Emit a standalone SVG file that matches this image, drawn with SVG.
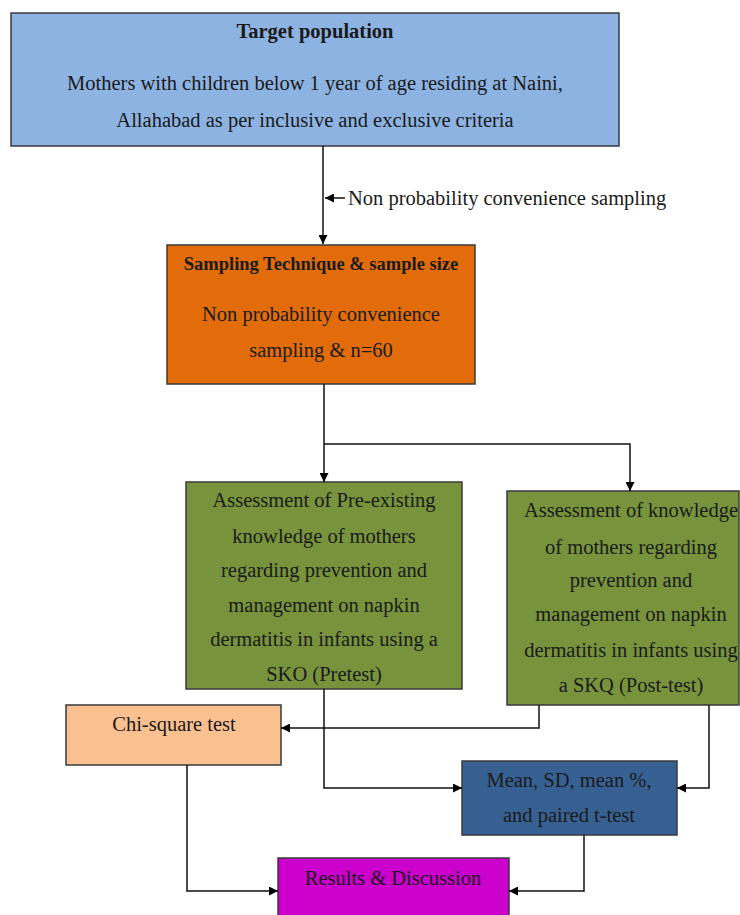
<svg xmlns="http://www.w3.org/2000/svg" width="740" height="915" viewBox="0 0 740 915">
<style>
text{font-family:"Liberation Serif","Times New Roman",serif;fill:#1a1a1a;text-anchor:middle}
.t{font-size:20.5px}
.b{font-weight:bold}
.box{stroke:#3a3a3a;stroke-width:1.5}
.c{fill:none;stroke:#111;stroke-width:1.5}
</style>
<defs>
<marker id="a" viewBox="0 0 10 10" refX="10" refY="5" markerWidth="9" markerHeight="9" markerUnits="userSpaceOnUse" orient="auto"><path d="M0,0L10,5L0,10z" fill="#000"/></marker>
</defs>
<g id="target">
<rect class="box" x="11" y="13" width="608" height="133" fill="#8DB3E2"/>
<text class="t b" x="315" y="38">Target population</text>
<text class="t" x="315" y="90">Mothers with children below 1 year of age residing at Naini,</text>
<text class="t" x="315" y="127">Allahabad as per inclusive and exclusive criteria</text>
</g>
<g id="sampling">
<rect class="box" x="167" y="245" width="308" height="139" fill="#E36C0A"/>
<text class="b" x="321" y="270" font-size="18.5">Sampling Technique &amp; sample size</text>
<text class="t" x="321" y="321">Non probability convenience</text>
<text class="t" x="321" y="357">sampling &amp; n=60</text>
</g>
<g id="pretest">
<rect class="box" x="186" y="482" width="276" height="207" fill="#77933C"/>
<text class="t" x="324" y="507">Assessment of Pre-existing</text>
<text class="t" x="324" y="543">knowledge of mothers</text>
<text class="t" x="324" y="577">regarding prevention and</text>
<text class="t" x="324" y="612">management on napkin</text>
<text class="t" x="324" y="646">dermatitis in infants using a</text>
<text class="t" x="324" y="681">SKO (Pretest)</text>
</g>
<g id="posttest">
<rect class="box" x="507" y="491" width="232" height="214" fill="#77933C"/>
<text class="t" x="631" y="517">Assessment of knowledge</text>
<text class="t" x="631" y="554">of mothers regarding</text>
<text class="t" x="631" y="587">prevention and</text>
<text class="t" x="631" y="621">management on napkin</text>
<text class="t" x="631" y="657">dermatitis in infants using</text>
<text class="t" x="631" y="692">a SKQ (Post-test)</text>
</g>
<g id="chisquare">
<rect class="box" x="66" y="705" width="215" height="60" fill="#FAC090"/>
<text class="t" x="174" y="731">Chi-square test</text>
</g>
<g id="mean">
<rect class="box" x="462" y="761" width="215" height="74" fill="#376092"/>
<text class="t" x="569" y="787">Mean, SD, mean %,</text>
<text class="t" x="569" y="822">and paired t-test</text>
</g>
<g id="results">
<rect class="box" x="278" y="858" width="231" height="60" fill="#CC00CC"/>
<text class="t" x="393" y="885">Results &amp; Discussion</text>
</g>
<g id="connectors">
<path class="c" d="M323,146V244" marker-end="url(#a)"/>
<path class="c" d="M345,198H325" marker-end="url(#a)"/>
<text class="t" x="348" y="205" style="text-anchor:start">Non probability convenience sampling</text>
<path class="c" d="M324,384V482" marker-end="url(#a)"/>
<path class="c" d="M324,444H630V491" marker-end="url(#a)"/>
<path class="c" d="M539,705V728H281" marker-end="url(#a)"/>
<path class="c" d="M324,689V788H462" marker-end="url(#a)"/>
<path class="c" d="M709,705V788H677" marker-end="url(#a)"/>
<path class="c" d="M187,765V891H278" marker-end="url(#a)"/>
<path class="c" d="M584,835V891H509" marker-end="url(#a)"/>
</g>
</svg>
